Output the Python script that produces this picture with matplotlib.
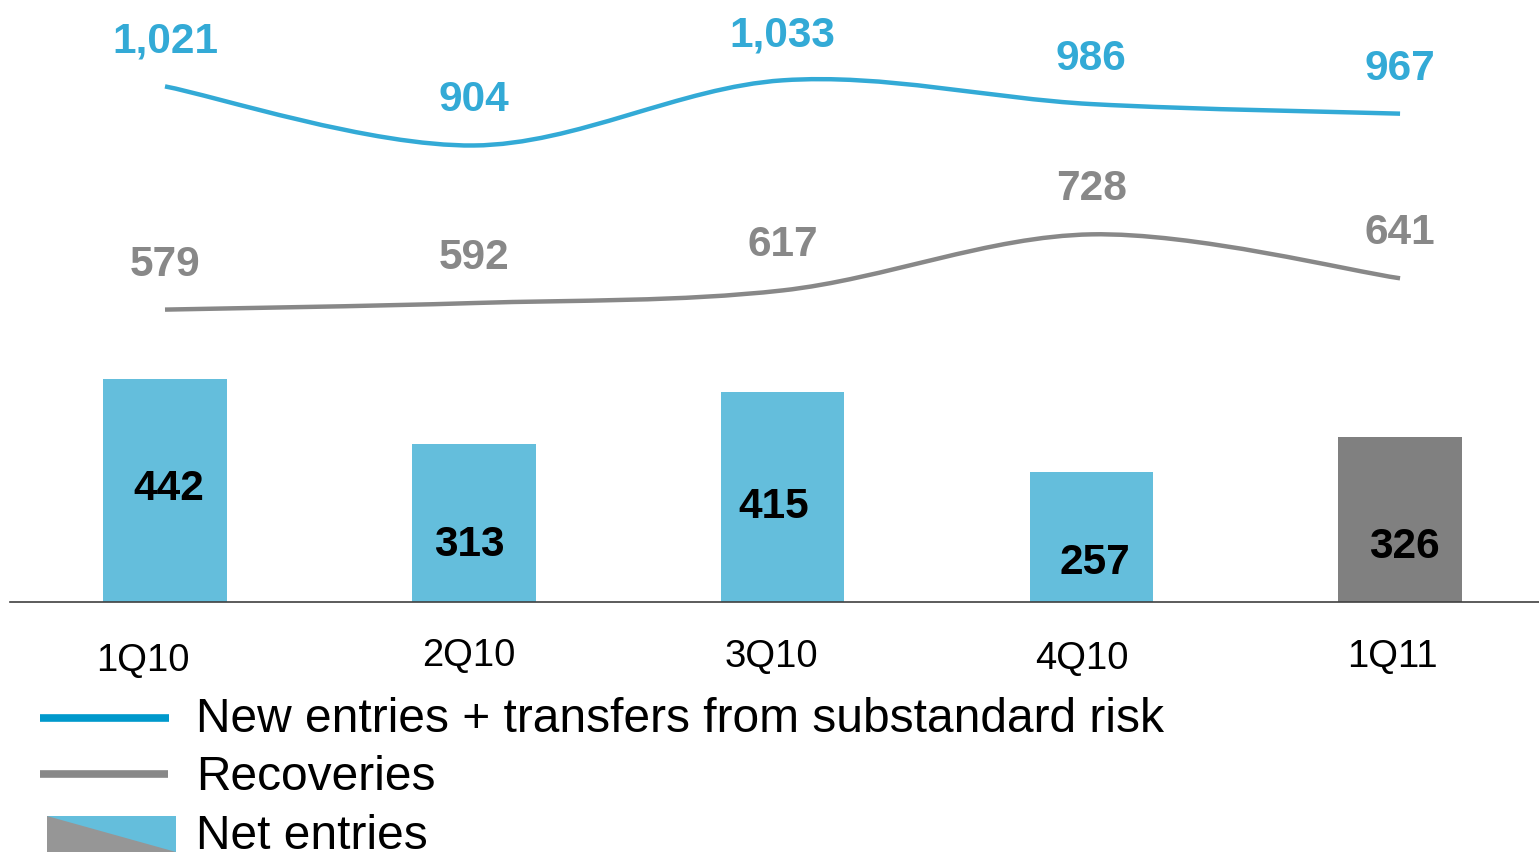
import matplotlib
matplotlib.use("Agg")
import matplotlib.pyplot as plt
import numpy as np
from matplotlib.path import Path
from matplotlib.patches import PathPatch, Polygon
from matplotlib.lines import Line2D

plt.rcParams['font.family'] = ['Liberation Sans', 'DejaVu Sans']

quarters = ['1Q10', '2Q10', '3Q10', '4Q10', '1Q11']
new_entries = [1021, 904, 1033, 986, 967]
recoveries = [579, 592, 617, 728, 641]
net_entries = [442, 313, 415, 257, 326]

BLUE_LINE = '#33aad6'
BLUE_BAR = '#64bedc'
GRAY_LINE = '#888888'
GRAY_BAR = '#808080'
bar_colors = [BLUE_BAR] * 4 + [GRAY_BAR]

# little nudges (pixels) for the labels, as laid out on the slide
bar_lbl_dx = [4, -4, -9, 4, 4]
bar_lbl_dy = [5, -18, -6, -22, -23]
tick_dx = [-22, -5, -11, -9, -8]
tick_dy = [-3, 2, 1, -1, 1]

W, H = 1539, 852
fig = plt.figure(figsize=(W / 100, H / 100), dpi=100)
base = 602
ax = fig.add_axes([10 / W, (H - base) / H, (W - 10) / W, base / H])

x = np.arange(len(quarters))
ax.bar(x, net_entries, width=0.4, color=bar_colors, zorder=2)


def smooth_path(xs, ys):
    # cubic bezier through the points (catmull-rom style, like office "smoothed line")
    pts = np.column_stack([xs, ys]).astype(float)
    ext = np.vstack([pts[0], pts, pts[-1]])
    verts = [pts[0]]
    codes = [Path.MOVETO]
    for i in range(len(pts) - 1):
        p0, p1, p2, p3 = ext[i], ext[i + 1], ext[i + 2], ext[i + 3]
        c1 = p1 + (p2 - p0) / 6
        c2 = p2 - (p3 - p1) / 6
        verts += [c1, c2, p2]
        codes += [Path.CURVE4] * 3
    return Path(verts, codes)


for vals, col in [(new_entries, BLUE_LINE), (recoveries, GRAY_LINE)]:
    ax.add_patch(PathPatch(smooth_path(x, vals), facecolor='none', edgecolor=col,
                           lw=3.2, capstyle='butt', zorder=3))

for xi, v in zip(x, new_entries):
    ax.annotate(f'{v:,}', (xi, v), xytext=(0, 34), textcoords='offset pixels',
                ha='center', va='baseline', fontsize=30.5, fontweight='bold', color=BLUE_LINE)
for xi, v in zip(x, recoveries):
    ax.annotate(f'{v:,}', (xi, v), xytext=(0, 34), textcoords='offset pixels',
                ha='center', va='baseline', fontsize=30.5, fontweight='bold', color=GRAY_LINE)
for xi, v, dx, dy in zip(x, net_entries, bar_lbl_dx, bar_lbl_dy):
    ax.annotate(f'{v}', (xi, v / 2), xytext=(dx, dy - 15), textcoords='offset pixels',
                ha='center', va='baseline', fontsize=30.5, fontweight='bold', color='black')

for xi, q, dx, dy in zip(x, quarters, tick_dx, tick_dy):
    ax.annotate(q, (xi, 0), xytext=(dx, -53 + dy - 13), textcoords='offset pixels',
                ha='center', va='baseline', fontsize=27.5, color='black', annotation_clip=False)

ax.set_xlim(-0.502, 4.45)
ax.set_ylim(0, base / 0.505)
ax.set_xticks([])
ax.set_yticks([])
for s in ['top', 'left', 'right']:
    ax.spines[s].set_visible(False)
ax.spines['bottom'].set_color('#404040')
ax.spines['bottom'].set_linewidth(1.2)
ax.patch.set_visible(False)


# legend, drawn by hand in pixel terms
def fx(px):
    return px / W


def fy(py):
    return 1 - py / H


fig.add_artist(Line2D([fx(40), fx(169)], [fy(718), fy(718)], color='#0099cc', lw=5.5,
                      solid_capstyle='butt'))
fig.add_artist(Line2D([fx(40), fx(168)], [fy(774), fy(774)], color=GRAY_LINE, lw=5.5,
                      solid_capstyle='butt'))
fig.add_artist(Polygon([(fx(47), fy(816)), (fx(176), fy(816)), (fx(176), fy(852)), (fx(47), fy(852))],
                       closed=True, facecolor=BLUE_BAR, edgecolor='none'))
fig.add_artist(Polygon([(fx(47), fy(816)), (fx(176), fy(852)), (fx(47), fy(852))],
                       closed=True, facecolor='#969696', edgecolor='none'))

legend_labels = ['New entries + transfers from substandard risk', 'Recoveries', 'Net entries']
for lbl, by in zip(legend_labels, [732, 790, 849]):
    fig.text(fx(196), fy(by), lbl, fontsize=34.5, va='baseline', ha='left', color='black')

fig.savefig('out.png', dpi=100)
